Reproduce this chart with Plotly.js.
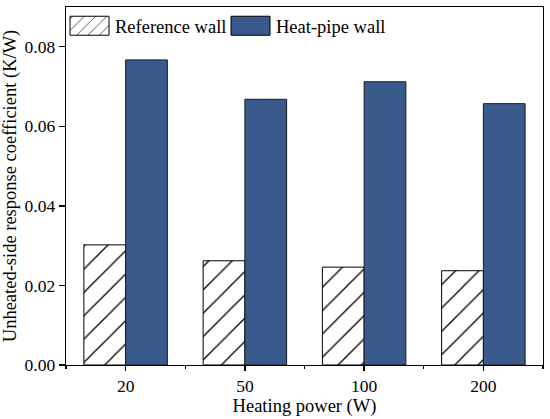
<!DOCTYPE html>
<html>
<head>
<meta charset="utf-8">
<script src="https://cdn.plot.ly/plotly-3.0.1.min.js"></script>
<style>html,body{margin:0;padding:0;background:#fff;}#chart{width:550px;height:419px;}</style>
</head>
<body>
<div id="chart"></div>
<script>
var categories = ['20', '50', '100', '200'];
var referenceWall = [0.0302, 0.0262, 0.0246, 0.0237];
var heatPipeWall = [0.0767, 0.0668, 0.0712, 0.0657];
var yTickVals = [0, 0.02, 0.04, 0.06, 0.08];
var yTickText = ['0.00', '0.02', '0.04', '0.06', '0.08'];

var xIdx = categories.map(function (_, i) { return i; });
var font = 'Liberation Serif, Times New Roman, serif';

var traces = [
  {
    type: 'bar', name: 'Reference wall', x: xIdx, y: referenceWall,
    marker: {
      color: '#ffffff',
      line: {color: '#000000', width: 1},
      pattern: {shape: '/', size: 16.5, solidity: 0.08, fgcolor: '#000000', bgcolor: '#ffffff', fgopacity: 1, fillmode: 'replace'}
    }
  },
  {
    type: 'bar', name: 'Heat-pipe wall', x: xIdx, y: heatPipeWall,
    marker: {color: '#3a5a8e', line: {color: '#1a1a1a', width: 1}}
  }
];

var layout = {
  width: 550, height: 419,
  margin: {l: 66, r: 7, t: 7, b: 54},
  paper_bgcolor: '#ffffff', plot_bgcolor: '#ffffff',
  font: {family: font, size: 17.5, color: '#000000'},
  barmode: 'group', bargap: 0.3, bargroupgap: 0,
  showlegend: true,
  legend: {
    orientation: 'h', x: 0.008, y: 1.0, xanchor: 'left', yanchor: 'top',
    bgcolor: 'rgba(0,0,0,0)', font: {family: font, size: 18.5, color: '#000'},
    itemwidth: 30, tracegroupgap: 0
  },
  xaxis: {
    range: [-0.5, 3.5], tickmode: 'array', tickvals: xIdx, ticktext: categories,
    showline: true, linecolor: '#000', linewidth: 1.3, mirror: true,
    ticks: 'outside', ticklen: 5, tickwidth: 1.3, tickcolor: '#000',
    minor: {ticks: 'outside', ticklen: 3, tickwidth: 1.3, tickcolor: '#000', tickmode: 'linear', tick0: 0.5, dtick: 1},
    showgrid: false, zeroline: false,
    title: {text: 'Heating power (W)', standoff: 1, font: {family: font, size: 18.5}},
    tickfont: {family: font, size: 17.5}
  },
  yaxis: {
    range: [0, 0.09], tickmode: 'array', tickvals: yTickVals, ticktext: yTickText,
    showline: true, linecolor: '#000', linewidth: 1.3, mirror: true,
    ticks: 'outside', ticklen: 6, tickwidth: 1.3, tickcolor: '#000',
    showgrid: false, zeroline: false,
    title: {text: 'Unheated-side response coefficient (K/W)', standoff: 6, font: {family: font, size: 18.5}},
    tickfont: {family: font, size: 17.5}
  }
};

Plotly.newPlot('chart', traces, layout, {displayModeBar: false, staticPlot: true}).then(function (gd) {
  var barPath = gd.querySelector('.plot .trace.bars path');
  var barFill = barPath ? (barPath.style.fill || barPath.getAttribute('fill')) : null;
  var sb = gd.querySelectorAll('.legend [clip-path]');
  sb.forEach(function (el) { el.removeAttribute('clip-path'); });
  var items = gd.querySelectorAll('.legend .traces');
  var targetTextLeft = [115, 276];
  var rootRect = gd.getBoundingClientRect();
  items.forEach(function (it, i) {
    var tEl = it.querySelector('.legendtext');
    var tr = tEl.getBoundingClientRect();
    var curLeft = tr.left - rootRect.left;
    var dx = targetTextLeft[i] - curLeft;
    var m = /translate\(([-\d.e]+)[ ,]*([-\d.e]*)\)/.exec(it.getAttribute('transform') || '');
    var ox = m ? parseFloat(m[1]) : 0, oy = m && m[2] ? parseFloat(m[2]) : 0;
    it.setAttribute('transform', 'translate(' + (ox + dx) + ',' + oy + ')');
    tr = tEl.getBoundingClientRect();
    var p = it.querySelector('.legendpoints path');
    if (!p) return;
    p.removeAttribute('transform');
    var ctm = p.parentNode.getScreenCTM();
    var left = (tr.left - 45) - ctm.e;
    var cy = (tr.top + tr.height * 0.5 - 1) - ctm.f;
    p.setAttribute('d', 'M' + left + ',' + (cy - 9.5) + 'h39v19h-39z');
    if (i === 0 && barFill) {
      p.style.fill = barFill;
    }
    p.style.stroke = '#000';
    p.style.strokeWidth = '1px';
  });
});
</script>
</body>
</html>
